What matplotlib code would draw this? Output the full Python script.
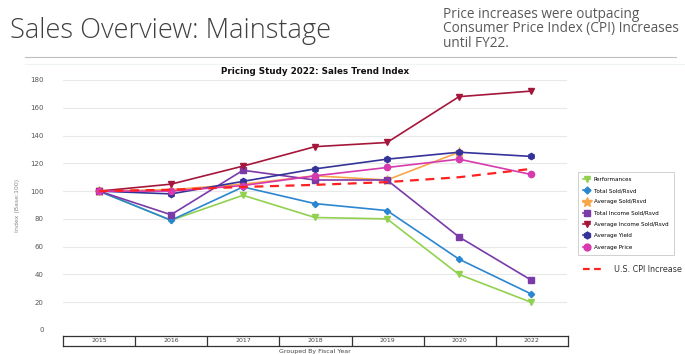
import numpy as np
import matplotlib
matplotlib.use("Agg")
import matplotlib.pyplot as plt
from matplotlib.lines import Line2D

years = ["2015", "2016", "2017", "2018", "2019", "2020", "2022"]

performances = [100, 79, 97, 81, 80, 40, 20]
total_sold = [100, 79, 103, 91, 86, 51, 26]
avg_sold = [100, 101, 105, 111, 108, 128, np.nan]
total_income = [100, 83, 115, 108, 108, 67, 36]
avg_income = [100, 105, 118, 132, 135, 168, 172]
avg_yield = [100, 98, 107, 116, 123, 128, 125]
avg_price = [100, 100, 104, 111, 117, 123, 112]
cpi = [100, 101, 103, 104.5, 106.5, 110, 116]

series = [
    ("Performances", performances, "#92d050", "v"),
    ("Total Sold/Rsvd", total_sold, "#2b86d0", "D"),
    ("Average Sold/Rsvd", avg_sold, "#f8a64a", "*"),
    ("Total Income Sold/Rsvd", total_income, "#7a3aa8", "s"),
    ("Average Income Sold/Rsvd", avg_income, "#a5163b", "v"),
    ("Average Yield", avg_yield, "#35339a", "h"),
    ("Average Price", avg_price, "#d63aae", "o"),
]

W, H = 685, 354
fig = plt.figure(figsize=(W / 100, H / 100), dpi=100)
fig.patch.set_facecolor("white")

# slide header
fig.text(10 / W, 1 - 31 / H, "Sales Overview: Mainstage", fontsize=19.6,
         family="Open Sans", fontweight="light", color="#404040", va="center")
fig.text(443 / W, 1 - 7 / H,
         "Price increases were outpacing\nConsumer Price Index (CPI) Increases\nuntil FY22.",
         fontsize=9.8, family="Open Sans", color="#595959", va="top", linespacing=0.95)
fig.add_artist(Line2D([25 / W, 676 / W], [1 - 57 / H] * 2, color="#bfbfbf", lw=0.8))
fig.add_artist(Line2D([25 / W, 684 / W], [1 - 64 / H] * 2, color="#eef4f4", lw=0.8))

# main chart
ax = fig.add_axes([63 / W, 1 - 330 / H, 504 / W, 250 / H])
x = np.arange(len(years))
for name, vals, col, mk in series:
    ms = 4.5
    if mk == "*":
        ms = 6.5
    if mk == "D":
        ms = 3.2
    ax.plot(x, vals, color=col, lw=1.2, marker=mk, ms=ms, label=name, zorder=3)
ax.plot(x, cpi, color="#ff2020", lw=1.6, ls=(0, (4, 3)), zorder=4)

ax.set_xlim(-0.5, len(years) - 0.5)
ax.set_ylim(0, 180)
ax.set_yticks(range(0, 181, 20))
ax.tick_params(axis="y", labelsize=5, colors="#555555", length=0, pad=14)
ax.set_xticks([])
for s in ax.spines.values():
    s.set_visible(False)
ax.grid(axis="y", color="#e8e8e8", lw=0.8)
ax.set_axisbelow(True)
ax.set_ylabel("Index (Base:100)", fontsize=4.5, color="#888888", labelpad=4)
ax.set_title("Pricing Study 2022: Sales Trend Index", fontsize=6.3, fontweight="bold",
             pad=4, color="#111111")
ax.yaxis.set_label_coords(-0.085, 0.5)

# category box under the chart
bx = fig.add_axes([63 / W, 1 - 346 / H, 505 / W, 10 / H])
bx.set_xlim(-0.5, len(years) - 0.5)
bx.set_ylim(0, 1)
bx.set_xticks([])
bx.set_yticks([])
for s in bx.spines.values():
    s.set_color("#333333")
    s.set_linewidth(0.9)
for i in range(1, len(years)):
    bx.axvline(i - 0.5, color="#333333", lw=0.9)
for i, yr in enumerate(years):
    bx.text(i, 0.5, yr, ha="center", va="center", fontsize=4.5, color="#444444")
fig.text(315 / W, 1 - 351 / H, "Grouped By Fiscal Year", ha="center", va="center",
         fontsize=4.5, color="#444444")

# legends
handles, labels = ax.get_legend_handles_labels()
leg = fig.legend(handles, labels, loc="upper left", bbox_to_anchor=(575 / W, 1 - 169 / H),
                 fontsize=4.1, frameon=True, fancybox=False, edgecolor="#bbbbbb",
                 handlelength=1.3, handletextpad=0.6, labelspacing=1.1, borderpad=0.9,
                 markerscale=1.1)
leg.get_frame().set_linewidth(0.6)
cpi_h = Line2D([], [], color="#ff2020", lw=1.6, ls=(0, (3, 2)))
fig.legend([cpi_h], ["U.S. CPI Increase"], loc="center left",
           bbox_to_anchor=(576 / W, 1 - 269 / H), fontsize=5.8, frameon=False,
           handlelength=2.6, handletextpad=1.2, labelcolor="#333333")

fig.savefig("out.png", dpi=100)
